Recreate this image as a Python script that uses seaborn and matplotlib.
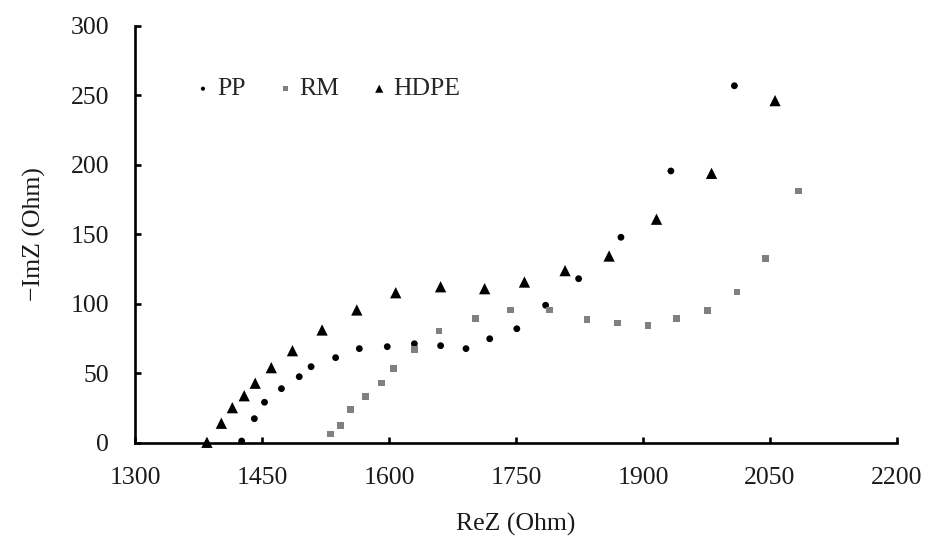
import matplotlib
matplotlib.use("Agg")
import matplotlib.pyplot as plt
import seaborn as sns
import pandas as pd

# Data
pp_re = [1426, 1441, 1453, 1473, 1494, 1508, 1537, 1565, 1598, 1630, 1661, 1691,
         1719, 1751, 1785, 1824, 1874, 1933, 2008]
pp_im = [1.4, 17.5, 29.3, 39.1, 47.7, 54.9, 61.4, 67.9, 69.3, 71.4, 70.0, 67.9,
         75.0, 82.2, 99.1, 118.2, 148.0, 195.7, 257.0]

rm_re = [1531, 1543, 1555, 1572, 1591, 1605, 1630, 1659, 1702, 1744, 1790, 1834,
         1870, 1906, 1940, 1976, 2011, 2045, 2084]
rm_im = [6.5, 12.7, 24.0, 33.6, 43.2, 53.5, 67.1, 80.6, 89.4, 95.7, 95.7, 88.7,
         86.3, 84.7, 89.4, 95.2, 108.6, 132.6, 181.3]

hdpe_re = [1385, 1402, 1415, 1429, 1442, 1461, 1486, 1521, 1562, 1608, 1661, 1713,
           1760, 1808, 1860, 1916, 1981, 2056]
hdpe_im = [0.5, 14.2, 25.4, 34.0, 43.0, 54.2, 66.4, 81.3, 95.7, 108.1, 112.4, 111.0,
           115.8, 124.0, 134.5, 161.0, 194.0, 246.3]

series_names = ["PP", "RM", "HDPE"]
x_ticks = [1300, 1450, 1600, 1750, 1900, 2050, 2200]
y_ticks = [0, 50, 100, 150, 200, 250, 300]

sns.set_theme(style="white")
plt.rcParams["font.family"] = ["Liberation Serif", "DejaVu Serif"]

FS = 18.5
TXT = "#1a1a1a"

fig = plt.figure(figsize=(9.27, 5.38), dpi=100)
ax = fig.add_axes([0.1456, 0.1766, 0.8220, 0.7751])

styles = {
    "PP": dict(marker="o", color="black", s=24),
    "RM": dict(marker="s", color="#808080", s=24),
    "HDPE": dict(marker="^", color="black", s=66),
}
legend_sizes = {"PP": 9, "RM": 13, "HDPE": 34}
datasets = {"PP": (pp_re, pp_im), "RM": (rm_re, rm_im), "HDPE": (hdpe_re, hdpe_im)}

for name in series_names:
    xs, ys = datasets[name]
    df = pd.DataFrame({"ReZ": xs, "ImZ": ys})
    st = styles[name]
    sns.scatterplot(data=df, x="ReZ", y="ImZ", ax=ax, marker=st["marker"],
                    color=st["color"], s=st["s"], edgecolor="none",
                    linewidth=0, label=name, clip_on=False, zorder=3)

ax.set_xlim(1300, 2200)
ax.set_ylim(0, 300)
ax.set_xticks(x_ticks)
ax.set_yticks(y_ticks)
ax.set_xticklabels([str(v) for v in x_ticks])
ax.set_yticklabels([str(v) for v in y_ticks])

for sp in ["top", "right"]:
    ax.spines[sp].set_visible(False)
for sp in ["left", "bottom"]:
    ax.spines[sp].set_color("black")
    ax.spines[sp].set_linewidth(1.9)

ax.tick_params(axis="both", which="major", bottom=True, left=True,
               direction="in", length=4.5, width=1.9, color="black",
               labelsize=FS, labelcolor=TXT)
ax.tick_params(axis="x", pad=17)
ax.tick_params(axis="y", pad=18.5)

ax.set_xlabel("ReZ (Ohm)", fontsize=FS, color=TXT, labelpad=17.5)
ax.set_ylabel("\u2212ImZ (Ohm)", fontsize=FS, color=TXT, labelpad=18)

leg = ax.legend(loc="center left", bbox_to_anchor=(0.0757, 0.849), ncol=3,
                frameon=False, fontsize=FS, handletextpad=0.15,
                columnspacing=1.15, handlelength=0.8, borderpad=0,
                borderaxespad=0)
for h, name in zip(leg.legend_handles, series_names):
    h.set_sizes([legend_sizes[name]])

fig.savefig("out.png", dpi=100)
